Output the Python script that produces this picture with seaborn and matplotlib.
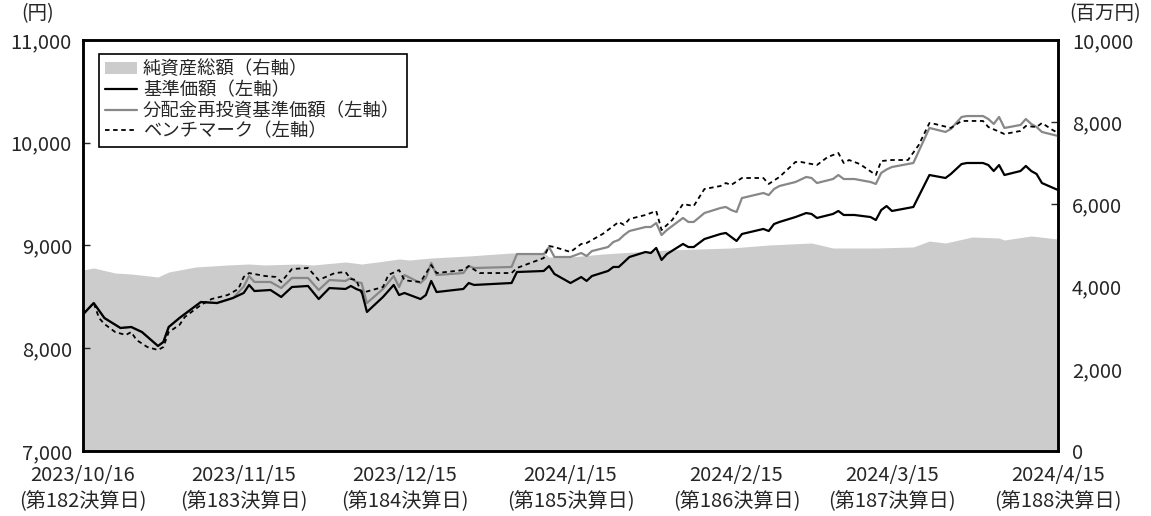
import matplotlib
matplotlib.use("Agg")
import matplotlib.pyplot as plt
import matplotlib.dates as mdates
from matplotlib.patches import Patch
from matplotlib.lines import Line2D
import pandas as pd
import seaborn as sns

# ---------------- data ----------------
nav_dates = ["2023-10-16", "2023-10-18", "2023-10-20", "2023-10-23", "2023-10-25", "2023-10-27",
             "2023-10-30", "2023-10-31", "2023-11-01", "2023-11-03", "2023-11-07", "2023-11-10",
             "2023-11-13", "2023-11-15", "2023-11-16", "2023-11-17", "2023-11-20", "2023-11-22",
             "2023-11-24", "2023-11-27", "2023-11-29", "2023-12-01", "2023-12-04", "2023-12-05",
             "2023-12-06", "2023-12-07", "2023-12-08", "2023-12-11", "2023-12-13", "2023-12-14",
             "2023-12-15", "2023-12-18", "2023-12-19", "2023-12-20", "2023-12-21", "2023-12-26",
             "2023-12-27", "2023-12-28", "2024-01-04", "2024-01-05", "2024-01-10", "2024-01-11",
             "2024-01-12", "2024-01-15", "2024-01-17", "2024-01-18", "2024-01-19", "2024-01-22",
             "2024-01-23", "2024-01-24", "2024-01-25", "2024-01-26", "2024-01-29", "2024-01-30",
             "2024-01-31", "2024-02-01", "2024-02-02", "2024-02-05", "2024-02-06", "2024-02-07",
             "2024-02-09", "2024-02-12", "2024-02-13", "2024-02-14", "2024-02-15", "2024-02-16",
             "2024-02-20", "2024-02-21", "2024-02-22", "2024-02-23", "2024-02-26", "2024-02-28",
             "2024-02-29", "2024-03-01", "2024-03-04", "2024-03-05", "2024-03-06", "2024-03-08",
             "2024-03-11", "2024-03-12", "2024-03-13", "2024-03-14", "2024-03-15", "2024-03-18",
             "2024-03-19", "2024-03-22", "2024-03-25", "2024-03-26", "2024-03-28", "2024-03-29",
             "2024-04-01", "2024-04-02", "2024-04-03", "2024-04-04", "2024-04-05", "2024-04-08",
             "2024-04-09", "2024-04-10", "2024-04-11", "2024-04-12", "2024-04-15"]

# 基準価額 (yen)
nav = [8330, 8440, 8294, 8197, 8207, 8158,
       8022, 8061, 8207, 8294, 8450, 8440,
       8489, 8538, 8616, 8557, 8567, 8499,
       8596, 8606, 8479, 8586, 8577, 8606,
       8577, 8557, 8353, 8499, 8616, 8518,
       8538, 8479, 8518, 8655, 8547, 8577,
       8635, 8616, 8635, 8742, 8752, 8800,
       8723, 8635, 8693, 8655, 8703, 8752,
       8791, 8791, 8839, 8888, 8937, 8927,
       8976, 8859, 8917, 9015, 8985, 8985,
       9063, 9112, 9122, 9083, 9044, 9112,
       9161, 9141, 9209, 9229, 9277, 9316,
       9307, 9268, 9307, 9336, 9297, 9297,
       9277, 9248, 9345, 9384, 9336, 9365,
       9375, 9686, 9657, 9696, 9793, 9803,
       9803, 9783, 9725, 9783, 9686, 9725,
       9774, 9725, 9696, 9608, 9540]

# 分配金再投資基準価額 (yen)
nav_reinv = [8330, 8440, 8294, 8197, 8207, 8158,
             8022, 8061, 8207, 8294, 8450, 8440,
             8489, 8600, 8703, 8645, 8645, 8586,
             8684, 8684, 8567, 8664, 8655, 8684,
             8645, 8635, 8440, 8577, 8703, 8596,
             8713, 8635, 8684, 8830, 8713, 8732,
             8800, 8781, 8791, 8917, 8917, 8985,
             8888, 8888, 8927, 8898, 8946, 8985,
             9034, 9054, 9102, 9141, 9180, 9180,
             9219, 9102, 9151, 9268, 9229, 9229,
             9316, 9365, 9375, 9345, 9326, 9462,
             9511, 9491, 9550, 9579, 9618, 9667,
             9657, 9608, 9647, 9686, 9647, 9647,
             9618, 9599, 9706, 9740, 9764, 9793,
             9803, 10144, 10105, 10134, 10251, 10260,
             10260, 10231, 10183, 10251, 10144, 10173,
             10231, 10183, 10153, 10105, 10066]

bm_dates = ["2023-10-16", "2023-10-18", "2023-10-19", "2023-10-20", "2023-10-22", "2023-10-24",
            "2023-10-25", "2023-10-26", "2023-10-28", "2023-10-30", "2023-10-31", "2023-11-01",
            "2023-11-03", "2023-11-04", "2023-11-07", "2023-11-09", "2023-11-12", "2023-11-14",
            "2023-11-15", "2023-11-16", "2023-11-19", "2023-11-21", "2023-11-22", "2023-11-24",
            "2023-11-27", "2023-11-29", "2023-12-02", "2023-12-04", "2023-12-05", "2023-12-06",
            "2023-12-07", "2023-12-11", "2023-12-12", "2023-12-14", "2023-12-15", "2023-12-16",
            "2023-12-18", "2023-12-20", "2023-12-21", "2023-12-26", "2023-12-27", "2023-12-29",
            "2024-01-04", "2024-01-05", "2024-01-10", "2024-01-11", "2024-01-12", "2024-01-15",
            "2024-01-17", "2024-01-18", "2024-01-21", "2024-01-24", "2024-01-25", "2024-01-26",
            "2024-01-29", "2024-01-31", "2024-02-01", "2024-02-03", "2024-02-05", "2024-02-07",
            "2024-02-09", "2024-02-12", "2024-02-13", "2024-02-14", "2024-02-16", "2024-02-20",
            "2024-02-21", "2024-02-23", "2024-02-26", "2024-02-27", "2024-03-01", "2024-03-03",
            "2024-03-05", "2024-03-06", "2024-03-07", "2024-03-09", "2024-03-12", "2024-03-13",
            "2024-03-15", "2024-03-18", "2024-03-20", "2024-03-22", "2024-03-23", "2024-03-26",
            "2024-03-28", "2024-04-01", "2024-04-02", "2024-04-05", "2024-04-08", "2024-04-09",
            "2024-04-11", "2024-04-12", "2024-04-14", "2024-04-15"]

# ベンチマーク (yen)
benchmark = [8330, 8440, 8294, 8236, 8158, 8129,
             8158, 8080, 8012, 7983, 8012, 8158,
             8226, 8304, 8421, 8479, 8518, 8577,
             8694, 8732, 8703, 8694, 8645, 8771,
             8781, 8664, 8732, 8742, 8674, 8664,
             8538, 8596, 8713, 8761, 8664, 8655,
             8645, 8810, 8732, 8761, 8800, 8732,
             8732, 8781, 8878, 8995, 8985, 8937,
             9015, 9024, 9112, 9229, 9200, 9258,
             9297, 9336, 9151, 9249, 9404, 9384,
             9550, 9579, 9608, 9589, 9657, 9657,
             9599, 9667, 9813, 9813, 9783, 9861,
             9900, 9803, 9832, 9793, 9686, 9822,
             9832, 9832, 9978, 10192, 10183, 10144,
             10212, 10212, 10153, 10085, 10115, 10163,
             10153, 10192, 10124, 10095]

asset_dates = ["2023-10-16", "2023-10-18", "2023-10-22", "2023-10-25", "2023-10-30", "2023-11-01",
               "2023-11-06", "2023-11-12", "2023-11-16", "2023-11-19", "2023-11-25", "2023-11-28",
               "2023-12-04", "2023-12-07", "2023-12-10", "2023-12-14", "2023-12-16", "2023-12-20",
               "2023-12-27", "2024-01-04", "2024-01-10", "2024-01-11", "2024-01-15", "2024-01-21",
               "2024-02-02", "2024-02-14", "2024-02-21", "2024-02-29", "2024-03-04", "2024-03-12",
               "2024-03-19", "2024-03-22", "2024-03-25", "2024-03-30", "2024-04-04", "2024-04-05",
               "2024-04-10", "2024-04-15"]

# 純資産総額 (million yen)
net_assets = [4404, 4453, 4331, 4307, 4234, 4355,
              4477, 4526, 4550, 4526, 4550, 4526,
              4599, 4550, 4599, 4672, 4647, 4696,
              4745, 4818, 4818, 4720, 4720, 4793,
              4891, 4939, 5012, 5061, 4939, 4939,
              4964, 5109, 5061, 5207, 5182, 5134,
              5231, 5158]

tick_dates = ["2023-10-16", "2023-11-15", "2023-12-15", "2024-01-15",
              "2024-02-15", "2024-03-15", "2024-04-15"]
tick_labels = ["2023/10/16\n(第182決算日)", "2023/11/15\n(第183決算日)",
               "2023/12/15\n(第184決算日)", "2024/1/15\n(第185決算日)",
               "2024/2/15\n(第186決算日)", "2024/3/15\n(第187決算日)",
               "2024/4/15\n(第188決算日)"]

left_ticks = [7000, 8000, 9000, 10000, 11000]
right_ticks = [0, 2000, 4000, 6000, 8000, 10000]

legend_labels = ["純資産総額（右軸）", "基準価額（左軸）",
                 "分配金再投資基準価額（左軸）", "ベンチマーク（左軸）"]

# ---------------- plotting ----------------
sns.set_style("white")
plt.rcParams["font.family"] = ["Noto Sans CJK JP", "DejaVu Sans"]

df_nav = pd.DataFrame({"date": pd.to_datetime(nav_dates), "nav": nav, "reinv": nav_reinv})
df_bm = pd.DataFrame({"date": pd.to_datetime(bm_dates), "bm": benchmark})
df_as = pd.DataFrame({"date": pd.to_datetime(asset_dates), "assets": net_assets})

fig = plt.figure(figsize=(11.51, 5.16), dpi=100)
ax_a = fig.add_axes([83 / 1151, 1 - 451 / 516, (1058 - 83) / 1151, (451 - 40) / 516])
ax_l = ax_a.twinx()

area_color = "#cccccc"
gray_line = "#888888"

# area (right axis)
ax_a.fill_between(df_as["date"], 0, df_as["assets"], color=area_color, lw=0)
ax_a.set_ylim(0, 10000)
ax_a.yaxis.tick_right()
ax_a.set_yticks(right_ticks)
ax_a.set_yticklabels([f"{v:,}" for v in right_ticks])

# lines (left axis)
sns.lineplot(data=df_nav, x="date", y="reinv", ax=ax_l, color=gray_line, lw=1.6)
sns.lineplot(data=df_nav, x="date", y="nav", ax=ax_l, color="black", lw=1.6)
sns.lineplot(data=df_bm, x="date", y="bm", ax=ax_l, color="black", lw=1.3,
             linestyle=(0, (2.5, 2)))
ax_l.yaxis.tick_left()
ax_l.yaxis.set_label_position("left")
ax_l.set_ylim(7000, 11000)
ax_l.set_yticks(left_ticks)
ax_l.set_yticklabels([f"{v:,}" for v in left_ticks])

xmin, xmax = pd.Timestamp("2023-10-16"), pd.Timestamp("2024-04-15")
for a in (ax_a, ax_l):
    a.set_xlim(xmin, xmax)
    a.set_xlabel("")
    a.set_ylabel("")
ax_a.set_xticks(pd.to_datetime(tick_dates))
ax_a.set_xticklabels(tick_labels, fontsize=14.5, linespacing=1.3)
ax_l.set_xticks(pd.to_datetime(tick_dates))

ax_a.tick_params(axis="x", direction="in", length=5, width=1, pad=10, bottom=True)
ax_a.tick_params(axis="y", direction="in", length=5, width=1, labelsize=14.5, right=True, left=False, pad=10)
ax_l.tick_params(axis="y", direction="in", length=5, width=1, labelsize=14.5, left=True, right=False, pad=8)
ax_l.tick_params(axis="x", bottom=False, labelbottom=False)

for a in (ax_a, ax_l):
    for s in a.spines.values():
        s.set_visible(True)
        s.set_color("black")
        s.set_linewidth(1.8)

fig.text(38 / 1151, 1 - 14 / 516, "(円)", fontsize=14, ha="center", va="center")
fig.text(1105 / 1151, 1 - 14 / 516, "(百万円)", fontsize=14, ha="center", va="center")

handles = [Patch(facecolor=area_color, edgecolor="none"),
           Line2D([], [], color="black", lw=1.6),
           Line2D([], [], color=gray_line, lw=1.6),
           Line2D([], [], color="black", lw=1.3, linestyle=(0, (2.5, 2)))]
leg = ax_l.legend(handles, legend_labels, loc="upper left", bbox_to_anchor=(16 / 975, 1 - 14 / 411),
                  fontsize=13.2, frameon=True, fancybox=False, framealpha=1, edgecolor="black",
                  handlelength=1.7, handletextpad=0.35, labelspacing=0.15, borderpad=0.35,
                  borderaxespad=0)
leg.get_frame().set_linewidth(1.2)

fig.savefig("out.png", dpi=100)
